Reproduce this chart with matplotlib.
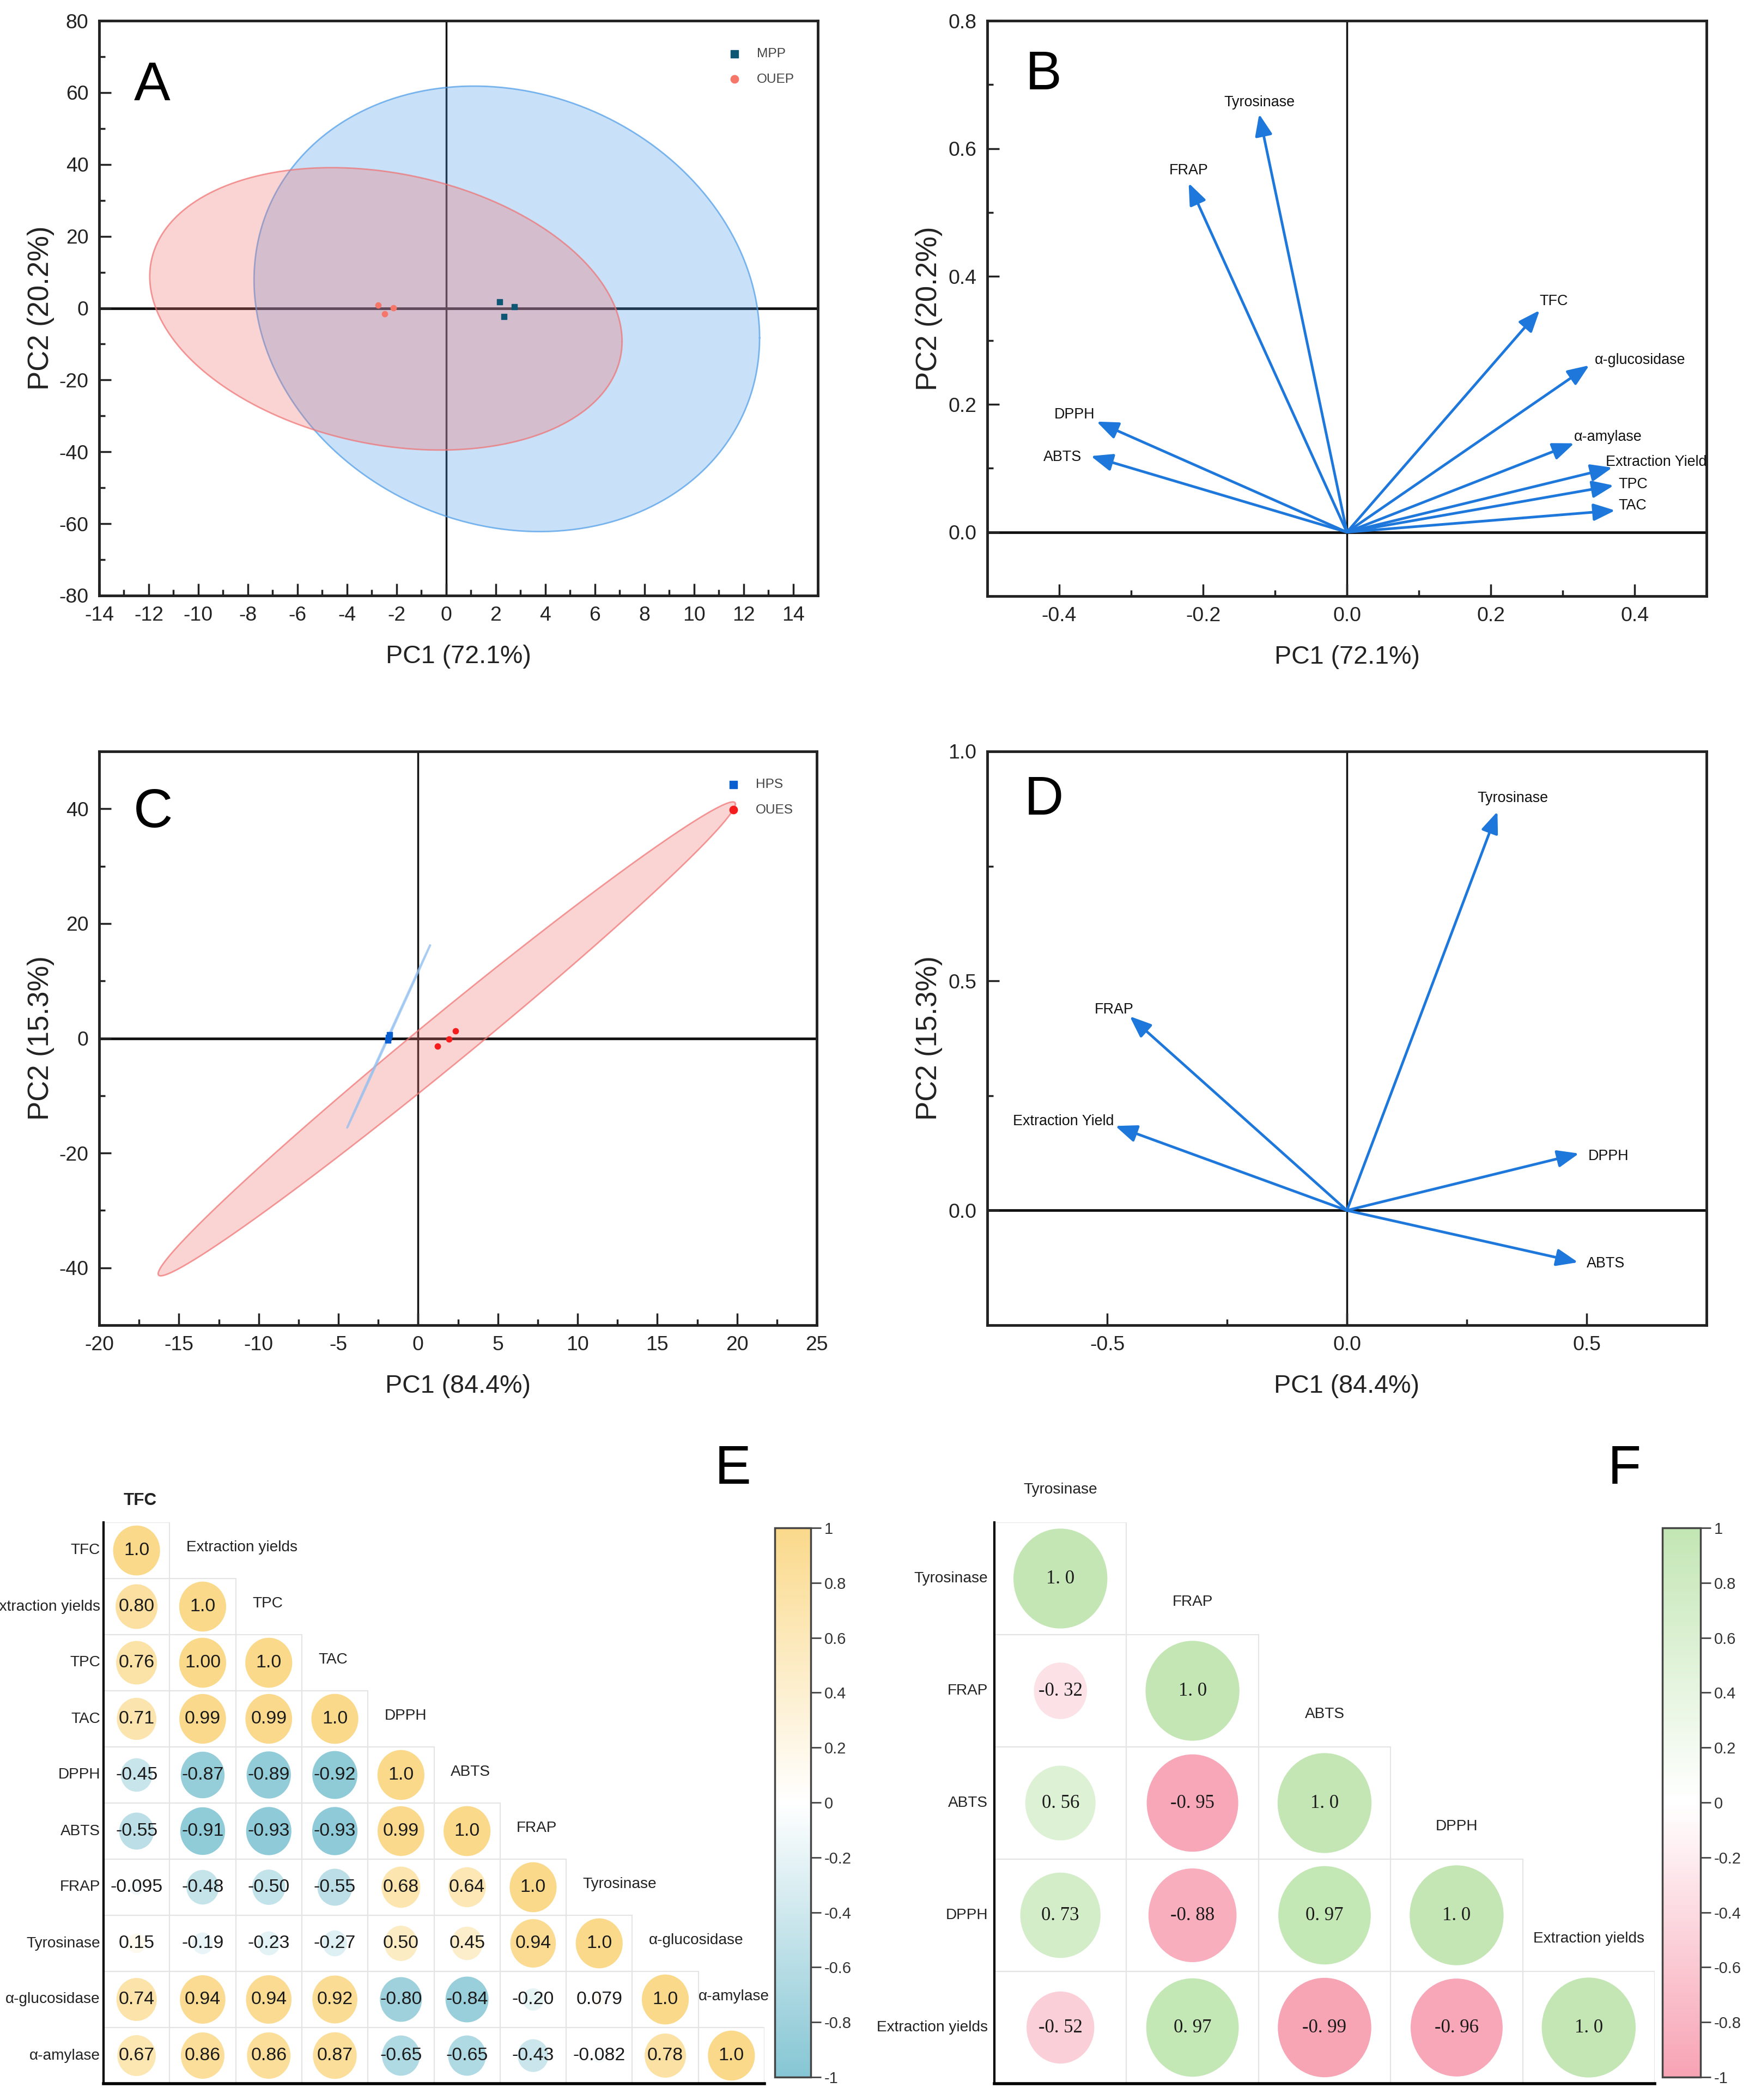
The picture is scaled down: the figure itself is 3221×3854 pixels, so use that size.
import numpy as np
import matplotlib
matplotlib.use("Agg")
import matplotlib.pyplot as plt
from matplotlib import font_manager
from matplotlib.patches import Ellipse, Rectangle
from matplotlib.colors import LinearSegmentedColormap, Normalize
from matplotlib.ticker import MultipleLocator
from matplotlib.colorbar import ColorbarBase

plt.rcParams['axes.unicode_minus'] = False

# ---------------- data ----------------
# A: PCA scores (MPP / OUEP)
mpp_x = [2.15, 2.33, 2.76]
mpp_y = [1.8, -2.4, 0.4]
ouep_x = [-2.74, -2.47, -2.13]
ouep_y = [0.9, -1.6, 0.1]
# confidence ellipse: centre x, centre y, half range x, half range y, correlation
mpp_ell = [2.45, -0.2, 10.2, 62.0, -0.13]
ouep_ell = [-2.43, -0.2, 9.53, 39.3, -0.23]

# B: loadings
b_vars = ['Tyrosinase', 'FRAP', 'TFC', 'α-glucosidase', 'α-amylase',
          'Extraction Yield', 'TPC', 'TAC', 'DPPH', 'ABTS']
b_pc1 = [-0.122, -0.220, 0.268, 0.337, 0.316, 0.369, 0.371, 0.373, -0.348, -0.356]
b_pc2 = [0.654, 0.546, 0.347, 0.261, 0.139, 0.101, 0.073, 0.034, 0.173, 0.119]

# C: PCA scores (HPS / OUES)
hps_x = [-1.9, -1.85, -1.8]
hps_y = [-0.3, 0.1, 0.6]
oues_x = [1.22, 1.92, 2.34]
oues_y = [-1.34, -0.16, 1.26]
hps_ell = [-1.85, 0.3, 2.6, 15.9, 0.9999]
oues_ell = [1.8, -0.1, 18.1, 41.3, 0.991]

# D: loadings
d_vars = ['Tyrosinase', 'FRAP', 'Extraction Yield', 'DPPH', 'ABTS']
d_pc1 = [0.314, -0.453, -0.483, 0.484, 0.482]
d_pc2 = [0.869, 0.423, 0.184, 0.124, -0.113]

# E: correlation matrix (lower triangle, as printed)
e_vars = ['TFC', 'Extraction yields', 'TPC', 'TAC', 'DPPH', 'ABTS', 'FRAP',
          'Tyrosinase', 'α-glucosidase', 'α-amylase']
e_text = [
    ['1.0'],
    ['0.80', '1.0'],
    ['0.76', '1.00', '1.0'],
    ['0.71', '0.99', '0.99', '1.0'],
    ['-0.45', '-0.87', '-0.89', '-0.92', '1.0'],
    ['-0.55', '-0.91', '-0.93', '-0.93', '0.99', '1.0'],
    ['-0.095', '-0.48', '-0.50', '-0.55', '0.68', '0.64', '1.0'],
    ['0.15', '-0.19', '-0.23', '-0.27', '0.50', '0.45', '0.94', '1.0'],
    ['0.74', '0.94', '0.94', '0.92', '-0.80', '-0.84', '-0.20', '0.079', '1.0'],
    ['0.67', '0.86', '0.86', '0.87', '-0.65', '-0.65', '-0.43', '-0.082', '0.78', '1.0'],
]

# F: correlation matrix
f_vars = ['Tyrosinase', 'FRAP', 'ABTS', 'DPPH', 'Extraction yields']
f_text = [
    ['1. 0'],
    ['-0. 32', '1. 0'],
    ['0. 56', '-0. 95', '1. 0'],
    ['0. 73', '-0. 88', '0. 97', '1. 0'],
    ['-0. 52', '0. 97', '-0. 99', '-0. 96', '1. 0'],
]
cbar_ticks = [1, 0.8, 0.6, 0.4, 0.2, 0, -0.2, -0.4, -0.6, -0.8, -1]

# ---------------- fonts ----------------
_names = {f.name for f in font_manager.fontManager.ttflist}
if 'Liberation Sans Narrow' in _names:
    NARROW = ['Liberation Sans Narrow', 'DejaVu Sans']
    K = 1.0
else:
    NARROW = ['Liberation Sans', 'DejaVu Sans']
    K = 0.84
SANS = ['Liberation Sans', 'DejaVu Sans']
SERIF = ['Liberation Serif', 'DejaVu Serif']

fig = plt.figure(figsize=(32.21, 38.54), dpi=100)
W, H = 3221.0, 3854.0


def px_axes(x0, y0, x1, y1):
    return fig.add_axes([x0 / W, 1 - y1 / H, (x1 - x0) / W, (y1 - y0) / H])


def conf_ellipse(ax, p, fc, ec, alpha, lw=2):
    cx, cy, a, b, r = p
    t = np.linspace(0, 2 * np.pi, 400)
    x = cx + a * np.cos(t)
    y = cy + b * (r * np.cos(t) - np.sqrt(1 - r * r) * np.sin(t))
    ax.fill(x, y, color=fc, alpha=alpha, lw=0, zorder=2)
    ax.plot(x, y, color=ec, lw=lw, alpha=0.7, zorder=2)


def pca_style(ax, xlim, ylim, xmaj, xmin, ymaj, ymin, xlabel, ylabel):
    ax.set_xlim(xlim)
    ax.set_ylim(ylim)
    ax.xaxis.set_major_locator(MultipleLocator(xmaj))
    ax.xaxis.set_minor_locator(MultipleLocator(xmin))
    ax.yaxis.set_major_locator(MultipleLocator(ymaj))
    ax.yaxis.set_minor_locator(MultipleLocator(ymin))
    ax.tick_params(which='both', direction='in', width=2.5, color='#222')
    ax.tick_params(which='major', length=16, pad=14)
    ax.tick_params(which='minor', length=8)
    for lab in ax.get_xticklabels() + ax.get_yticklabels():
        lab.set_family(NARROW)
        lab.set_fontsize(32 * K)
        lab.set_color('#222')
    for s in ax.spines.values():
        s.set_linewidth(3.5)
        s.set_color('#222')
    ax.axhline(0, color='#111', lw=3.5, zorder=1)
    ax.axvline(0, color='#111', lw=2.5, zorder=1)
    ax.set_xlabel(xlabel, fontsize=40 * K, family=NARROW, color='#222')
    ax.set_ylabel(ylabel, fontsize=38, family=SANS, color='#222')
    ax.xaxis.set_label_coords(0.5, -0.085)
    ax.yaxis.set_label_coords(-0.062, 0.5)


def legend(ax):
    ax.legend(loc='upper right', bbox_to_anchor=(0.975, 0.962), frameon=False,
              prop={'family': NARROW, 'size': 21 * K}, labelcolor='#444',
              markerscale=1.4, scatterpoints=1, handletextpad=1.2,
              labelspacing=1.0, borderaxespad=0, handlelength=1.0)


arrow_blue = '#1e78dc'


def loadings(ax, names, xs, ys, pos):
    for n, x, y in zip(names, xs, ys):
        ax.annotate('', xy=(x, y), xytext=(0, 0),
                    arrowprops=dict(arrowstyle='-|>,head_length=1.0,head_width=0.4',
                                    color=arrow_blue, lw=3.5, mutation_scale=24,
                                    shrinkA=0, shrinkB=0), zorder=3)
        dx, dy, ha, va = pos[n]
        ax.annotate(n, xy=(x, y), xytext=(dx, dy), textcoords='offset points',
                    ha=ha, va=va, fontsize=23 * K, family=NARROW, color='#111')


# ---------------- A ----------------
axA = px_axes(182, 38, 1501, 1093)
conf_ellipse(axA, mpp_ell, '#4a9be8', '#4a9be8', 0.3)
conf_ellipse(axA, ouep_ell, '#f07070', '#f07070', 0.3)
axA.scatter(mpp_x, mpp_y, marker='s', s=45, color='#0d5775', label='MPP', zorder=4)
axA.scatter(ouep_x, ouep_y, marker='o', s=55, color='#f4776a', label='OUEP', zorder=4)
pca_style(axA, (-14, 15), (-80, 80), 2, 1, 20, 10, 'PC1 (72.1%)', 'PC2 (20.2%)')
legend(axA)

# ---------------- B ----------------
axB = px_axes(1812, 38, 3132, 1094)
pos_b = {
    'Tyrosinase': (0, 6, 'center', 'bottom'),
    'FRAP': (0, 7, 'center', 'bottom'),
    'TFC': (0, 12, 'left', 'center'),
    'α-glucosidase': (7, 7, 'left', 'center'),
    'α-amylase': (0, 8, 'left', 'center'),
    'Extraction Yield': (-9, 7, 'left', 'center'),
    'TPC': (6, 1.5, 'left', 'center'),
    'TAC': (4, 6, 'left', 'center'),
    'DPPH': (-2, 9, 'right', 'center'),
    'ABTS': (-12, -1.5, 'right', 'center'),
}
loadings(axB, b_vars, b_pc1, b_pc2, pos_b)
pca_style(axB, (-0.5, 0.5), (-0.1, 0.8), 0.2, 0.1, 0.2, 0.1, 'PC1 (72.1%)', 'PC2 (20.2%)')

# ---------------- C ----------------
axC = px_axes(182, 1379, 1499, 2432)
conf_ellipse(axC, oues_ell, '#f07070', '#f07070', 0.3)
conf_ellipse(axC, hps_ell, '#9cc6f2', '#8dbdf0', 0.6, lw=2.5)
axC.scatter(hps_x, hps_y, marker='s', s=45, color='#0a5fd0', label='HPS', zorder=4)
axC.scatter(oues_x, oues_y, marker='o', s=55, color='#f41c1c', label='OUES', zorder=4)
pca_style(axC, (-20, 25), (-50, 50), 5, 2.5, 20, 10, 'PC1 (84.4%)', 'PC2 (15.3%)')
legend(axC)

# ---------------- D ----------------
axD = px_axes(1812, 1379, 3132, 2432)
pos_d = {
    'Tyrosinase': (20, 8, 'center', 'bottom'),
    'FRAP': (5, 9, 'right', 'center'),
    'Extraction Yield': (-2, 6, 'right', 'center'),
    'DPPH': (12, -4, 'left', 'center'),
    'ABTS': (11.5, -1.5, 'left', 'center'),
}
loadings(axD, d_vars, d_pc1, d_pc2, pos_d)
pca_style(axD, (-0.75, 0.75), (-0.25, 1.0), 0.5, 0.25, 0.5, 0.25, 'PC1 (84.4%)', 'PC2 (15.3%)')


# ---------------- E / F ----------------
def corr_panel(ax, cax, names, texts, cmap, vfont, vsize, lsize, col_style):
    n = len(names)
    ax.set_xlim(0, n)
    ax.set_ylim(n, 0)
    ax.set_xticks([])
    ax.set_yticks([])
    ax.spines['top'].set_visible(False)
    ax.spines['right'].set_visible(False)
    ax.spines['left'].set_linewidth(3)
    ax.spines['bottom'].set_linewidth(4)
    bb = ax.get_position()
    cw = bb.width * W / n
    ch = bb.height * H / n
    norm = Normalize(-1, 1)
    for i, row in enumerate(texts):
        for j, s in enumerate(row):
            r = float(s.replace(' ', ''))
            ax.add_patch(Rectangle((j, i), 1, 1, fill=False, ec='#e4e4e4', lw=1.5, zorder=1))
            h = 0.89 * min(cw, ch) * np.sqrt(abs(r))
            w = 0.94 * h
            ax.add_patch(Ellipse((j + 0.5, i + 0.5), w / cw, h / ch,
                                 fc=cmap(norm(r)), ec='none', zorder=2))
            ax.text(j + 0.5, i + 0.5, s, ha='center', va='center', fontsize=vsize,
                    family=vfont, color='#1a1a1a', zorder=3)
    for i, name in enumerate(names):
        ax.text(-0.05, i + 0.5, name, ha='right', va='center', fontsize=lsize,
                family=NARROW, color='#222')
    col_style(ax, names, lsize)
    cb = ColorbarBase(cax, cmap=cmap, norm=norm, ticks=cbar_ticks)
    cb.ax.set_yticklabels([('%g' % t) for t in cbar_ticks])
    cb.outline.set_linewidth(2.5)
    cb.outline.set_edgecolor('#444')
    cax.tick_params(direction='out', length=14, width=2, color='#444', pad=4)
    for lab in cax.get_yticklabels():
        lab.set_family(NARROW)
        lab.set_fontsize(25 * K)
        lab.set_color('#333')


def cols_e(ax, names, lsize):
    n = len(names)
    ax.text(0.55, -0.39, names[0], ha='center', va='center', fontsize=27 * K,
            family=NARROW, weight='bold', color='#222')
    for j in range(1, n):
        x = j + 0.25 if j < n - 1 else j
        ax.text(x, j - 0.55, names[j], ha='left', va='center', fontsize=lsize,
                family=NARROW, color='#222')


def cols_f(ax, names, lsize):
    for j in range(len(names)):
        ax.text(j + 0.5, j - 0.29, names[j], ha='center', va='center', fontsize=lsize,
                family=NARROW, color='#222')


cmap_e = LinearSegmentedColormap.from_list('e', ['#86c6d4', '#ffffff', '#fad98b'])
cmap_f = LinearSegmentedColormap.from_list('f', ['#f7a3b4', '#ffffff', '#c3e6b4'])

axE = px_axes(190, 2794, 1403, 3824)
caxE = px_axes(1422, 2804, 1488, 3812)
corr_panel(axE, caxE, e_vars, e_text, cmap_e, NARROW, 29 * K, 24 * K, cols_e)

axF = px_axes(1825, 2794, 3037, 3824)
caxF = px_axes(3051, 2804, 3121, 3812)
corr_panel(axF, caxF, f_vars, f_text, cmap_f, SERIF, 25, 24 * K, cols_f)

# panel letters
for letter, x, y in [('A', 279, 184), ('B', 1915, 164), ('C', 281, 1518),
                     ('D', 1916, 1495), ('E', 1345, 2723), ('F', 2981, 2723)]:
    fig.text(x / W, 1 - y / H, letter, ha='center', va='baseline', fontsize=72,
             family=SANS, color='black')

fig.savefig('out.png', dpi=100, facecolor='white')
